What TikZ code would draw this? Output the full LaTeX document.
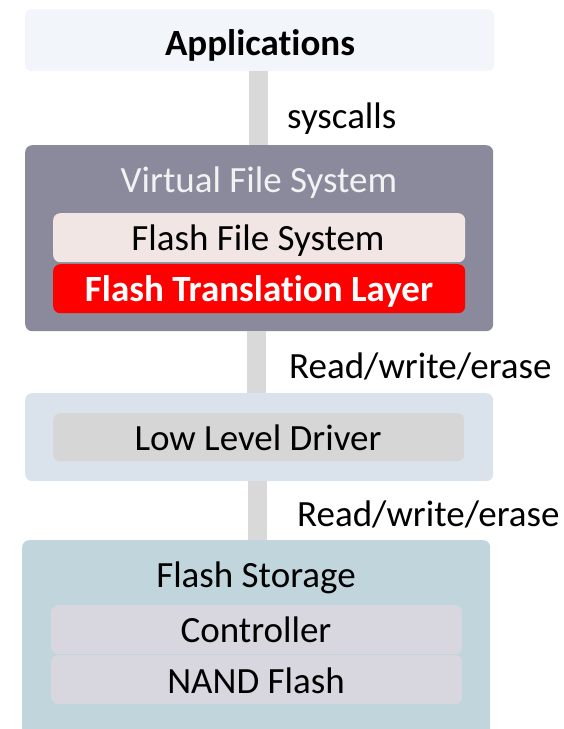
\documentclass[tikz,border=0pt]{standalone}
\usepackage{fontspec}
\setmainfont{Carlito}[Ligatures={NoCommon}]
\definecolor{appfill}{HTML}{F2F5F9}
\definecolor{vfsfill}{HTML}{8B8A9D}
\definecolor{vfstext}{HTML}{F2F2F2}
\definecolor{ffsfill}{HTML}{F2E6E5}
\definecolor{ftlfill}{HTML}{FF0000}
\definecolor{lldout}{HTML}{DAE3EC}
\definecolor{lldin}{HTML}{D6D6D6}
\definecolor{fsfill}{HTML}{C0D5DC}
\definecolor{ctrlfill}{HTML}{D8D6DE}
\definecolor{barcol}{HTML}{D9D9D9}
\begin{document}
\begin{tikzpicture}[x=1pt,y=-1pt,
  box/.style={rectangle, rounded corners=7pt, draw=none, anchor=north west, inner sep=0pt},
  lbl/.style={anchor=base, inner sep=0pt, font=\fontsize{37}{44}\selectfont},
  bar/.style={line width=19pt, draw=barcol}]
\useasboundingbox (0,0) rectangle (564,729);
\clip (0,0) rectangle (564,729);
% boxes
\node[box, fill=appfill, minimum width=469pt, minimum height=62pt] (app) at (25,9) {};
\node[box, fill=vfsfill, minimum width=468pt, minimum height=186pt] (vfs) at (25,145) {};
\node[box, fill=ffsfill, minimum width=412pt, minimum height=49pt] (ffs) at (53,213) {};
\node[box, fill=ftlfill, minimum width=412pt, minimum height=49pt] (ftl) at (53,264) {};
\node[box, fill=lldout, minimum width=468pt, minimum height=88pt] (lld) at (25,393) {};
\node[box, fill=lldin, minimum width=411pt, minimum height=48pt] (lldi) at (53,413) {};
\node[box, fill=fsfill, minimum width=468pt, minimum height=210pt] (fs) at (22,540) {};
\node[box, fill=ctrlfill, minimum width=411pt, minimum height=49pt] (ctrl) at (51,605) {};
\node[box, fill=ctrlfill, minimum width=411pt, minimum height=49pt] (nand) at (51,655) {};
% connectors
\draw[bar] ([xshift=-1pt]app.south) -- ([xshift=-1pt]app.south |- vfs.north);
\draw[bar] ([xshift=-3pt]vfs.south) -- ([xshift=-3pt]vfs.south |- lld.north);
\draw[bar] ([xshift=-1.5pt]lld.south) -- ([xshift=-1.5pt]lld.south |- fs.north);
% labels
\node[lbl, font=\fontsize{37}{44}\selectfont\bfseries] (appt) at (260,55) {Applications};
\node[lbl, anchor=base west] (sys) at (287,128) {syscalls};
\node[lbl, text=vfstext] (vfst) at (259,192) {Virtual File System};
\node[lbl] (ffst) at (258,250) {Flash File System};
\node[lbl, text=white, font=\fontsize{37}{44}\selectfont\bfseries] (ftlt) at (259,301) {Flash Translation Layer};
\node[lbl, anchor=base west] (rwe1) at (289,378) {Read/write/erase};
\node[lbl] (lldt) at (258,450) {Low Level Driver};
\node[lbl, anchor=base west] (rwe2) at (297,526) {Read/write/erase};
\node[lbl] (fst) at (256,587) {Flash Storage};
\node[lbl] (ctrlt) at (256,642) {Controller};
\node[lbl] (nandt) at (256,693) {NAND Flash};
\end{tikzpicture}
\end{document}
